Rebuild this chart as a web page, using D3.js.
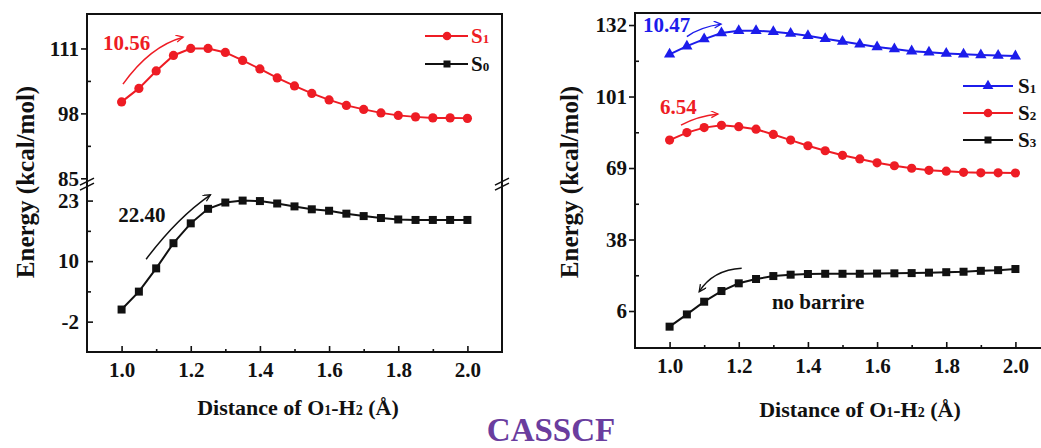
<!DOCTYPE html>
<html>
<head>
<meta charset="utf-8">
<script src="https://cdn.jsdelivr.net/npm/d3@7"></script>
<style>
  body { margin: 0; background: #fff; }
  svg { display: block; }
  svg text { font-family: 'Liberation Serif', 'Times New Roman', 'DejaVu Serif', serif !important; font-weight: bold; }
</style>
</head>
<body>
<div id="chart"></div>
<script>
// ---- data ----
const distance = [1.00, 1.05, 1.10, 1.15, 1.20, 1.25, 1.30, 1.35, 1.40, 1.45, 1.50,
  1.55, 1.60, 1.65, 1.70, 1.75, 1.80, 1.85, 1.90, 1.95, 2.00];

// left panel (two states, broken axis)
const leftS1 = [100.3, 103.0, 106.5, 109.6, 111.0, 111.0, 110.2, 108.6, 106.9, 105.1, 103.5,
  102.0, 100.7, 99.6, 98.8, 98.1, 97.6, 97.3, 97.1, 97.1, 97.0];
const leftS0 = [0.5, 4.2, 9.0, 14.2, 18.3, 21.3, 22.6, 23.0, 22.9, 22.4, 21.8,
  21.2, 20.9, 20.3, 19.8, 19.4, 19.1, 19.0, 19.0, 19.0, 19.0];

// right panel (three states)
const rightS1 = [119.4, 123.0, 126.1, 128.8, 129.8, 129.8, 129.3, 128.6, 127.6, 126.3, 125.0,
  123.8, 122.6, 121.7, 120.8, 120.3, 119.8, 119.4, 119.1, 118.9, 118.6];
const rightS2 = [81.6, 84.9, 87.1, 88.1, 87.5, 86.4, 84.1, 81.6, 79.1, 76.9, 74.9,
  73.3, 71.6, 70.3, 69.2, 68.3, 67.9, 67.4, 67.2, 67.2, 67.1];
const rightS3 = [-0.6, 4.8, 10.4, 15.1, 18.5, 20.4, 21.7, 22.3, 22.6, 22.7, 22.7,
  22.7, 22.8, 22.9, 23.0, 23.2, 23.4, 23.6, 24.0, 24.3, 24.8];

// ticks
const xTicks = [1.0, 1.2, 1.4, 1.6, 1.8, 2.0];
const xMinor = [1.1, 1.3, 1.5, 1.7, 1.9];
const leftTopTicks = [85, 98, 111];
const leftTopLabels = ['85', '98', '111'];
const leftTopMinor = [91.5, 104.5];
const leftLowTicks = [-2, 10.5, 23];
const leftLowLabels = ['-2', '10', '23'];
const leftLowMinor = [4.25, 16.75];
const rightTicks = [6.3, 37.8, 69.3, 100.8, 132.3];
const rightLabels = ['6', '38', '69', '101', '132'];
const rightMinor = [22.05, 53.55, 85.05, 116.55];

// annotations: barrier values
const barrierLeftS1 = '10.56';
const barrierLeftS0 = '22.40';
const barrierRightS1 = '10.47';
const barrierRightS2 = '6.54';
const noBarrierText = 'no barrire';

const RED = '#ee1c24', BLUE = '#1c1ceb', BLACK = '#111';
const SERIF = "'Liberation Serif', 'Times New Roman', 'DejaVu Serif', serif";

const W = 1041, H = 448;
const svg = d3.select('#chart').append('svg').attr('width', W).attr('height', H)
  .attr('font-family', SERIF).attr('font-weight', 'bold');

// arrow markers
const defs = svg.append('defs');
[['red', RED], ['blue', BLUE], ['black', BLACK]].forEach(([k, c]) => {
  defs.append('marker')
    .attr('id', `arr-${k}`)
    .attr('markerUnits', 'userSpaceOnUse')
    .attr('markerWidth', 12).attr('markerHeight', 12)
    .attr('refX', 8).attr('refY', 4)
    .attr('orient', 'auto')
    .append('path')
    .attr('d', 'M1,0 L8,4 L1,7')
    .attr('fill', 'none')
    .attr('stroke', c)
    .attr('stroke-width', 1.3);
});

// ---- scales ----
const xL = d3.scaleLinear().domain([0.9, 2.1]).range([87, 502]);
const yTop = d3.scaleLinear().domain([84.6, 117.9]).range([180.3, 14]);
const yLow = d3.scaleLinear().domain([-8.27, 25.6]).range([352, 188]);

const xR = d3.scaleLinear().domain([0.9, 2.1]).range([635, 1050]);
const yR = d3.scaleLinear().domain([-10.0, 137.6]).range([348, 13]);

function styleAxis(g) {
  g.attr('font-family', SERIF);
  g.select('.domain').remove();
  g.selectAll('line').attr('stroke', BLACK).attr('stroke-width', 1.6);
  g.selectAll('text').attr('font-size', 21).attr('fill', BLACK);
}

function drawSeries(g, xs, ys, vals, color, shape) {
  const line = d3.line().x((d, i) => xs(distance[i])).y(d => ys(d));
  g.append('path').datum(vals).attr('d', line)
    .attr('fill', 'none').attr('stroke', color).attr('stroke-width', 2);
  const pts = g.selectAll(null).data(vals).enter();
  if (shape === 'circle') {
    pts.append('circle').attr('cx', (d, i) => xs(distance[i])).attr('cy', d => ys(d))
      .attr('r', 4.6).attr('fill', color);
  } else if (shape === 'square') {
    pts.append('rect').attr('x', (d, i) => xs(distance[i]) - 4).attr('y', d => ys(d) - 4)
      .attr('width', 8).attr('height', 8).attr('fill', color);
  } else {
    pts.append('path').attr('d', d3.symbol(d3.symbolTriangle, 55))
      .attr('transform', (d, i) => `translate(${xs(distance[i])},${ys(d)})`)
      .attr('fill', color);
  }
}

function drawArrow(xs, ys, p0, c, p1, color, key) {
  const p = d3.path();
  p.moveTo(xs(p0[0]), ys(p0[1]));
  p.quadraticCurveTo(xs(c[0]), ys(c[1]), xs(p1[0]), ys(p1[1]));
  svg.append('path').attr('d', p.toString())
    .attr('fill', 'none').attr('stroke', color).attr('stroke-width', 1.5)
    .attr('marker-end', `url(#arr-${key})`);
}

function subText(g, x, y, main, sub, color, size, anchor) {
  const t = g.append('text').attr('x', x).attr('y', y).attr('fill', color)
    .attr('font-size', size).attr('text-anchor', anchor || 'start');
  t.append('tspan').text(main);
  t.append('tspan').attr('font-size', size * 0.62).text(sub);
  return t;
}

function xTitle(cx, y) {
  const t = svg.append('text').attr('x', cx).attr('y', y).attr('text-anchor', 'middle')
    .attr('font-size', 22).attr('fill', BLACK);
  t.append('tspan').text('Distance of O');
  t.append('tspan').attr('font-size', 14).text('1');
  t.append('tspan').text('-H');
  t.append('tspan').attr('font-size', 14).text('2');
  t.append('tspan').text(' (Å)');
}

function yTitle(cx, cy) {
  svg.append('text').attr('transform', `translate(${cx},${cy}) rotate(-90)`)
    .attr('text-anchor', 'middle').attr('dy', '0.35em')
    .attr('font-size', 25).attr('fill', BLACK)
    .text('Energy (kcal/mol)');
}

// ================= LEFT PANEL =================
const left = svg.append('g');

// x axis
left.append('g').attr('transform', `translate(0,${yLow.range()[0]})`)
  .call(d3.axisBottom(xL).tickValues(xTicks).tickFormat(d3.format('.1f'))
    .tickSizeInner(-6).tickSizeOuter(0).tickPadding(10))
  .call(styleAxis);
left.append('g').attr('transform', `translate(0,${yLow.range()[0]})`)
  .call(d3.axisBottom(xL).tickValues(xMinor).tickFormat('').tickSizeInner(-3).tickSizeOuter(0))
  .call(styleAxis);

// y axes (broken)
left.append('g').attr('transform', `translate(${xL.range()[0]},0)`)
  .call(d3.axisLeft(yTop).tickValues(leftTopTicks).tickFormat((d, i) => leftTopLabels[i])
    .tickSizeInner(6).tickSizeOuter(0).tickPadding(2))
  .call(styleAxis);
left.append('g').attr('transform', `translate(${xL.range()[0]},0)`)
  .call(d3.axisLeft(yTop).tickValues(leftTopMinor).tickFormat('').tickSizeInner(-4).tickSizeOuter(0))
  .call(styleAxis);
left.append('g').attr('transform', `translate(${xL.range()[0]},0)`)
  .call(d3.axisLeft(yLow).tickValues(leftLowTicks).tickFormat((d, i) => leftLowLabels[i])
    .tickSizeInner(-6).tickSizeOuter(0).tickPadding(8))
  .call(styleAxis);
left.append('g').attr('transform', `translate(${xL.range()[0]},0)`)
  .call(d3.axisLeft(yLow).tickValues(leftLowMinor).tickFormat('').tickSizeInner(-4).tickSizeOuter(0))
  .call(styleAxis);

// frame
left.append('rect')
  .attr('x', xL.range()[0]).attr('y', yTop.range()[1])
  .attr('width', xL.range()[1] - xL.range()[0])
  .attr('height', yLow.range()[0] - yTop.range()[1])
  .attr('fill', 'none').attr('stroke', BLACK).attr('stroke-width', 2);

// break marks on both vertical sides
const breakY = (yTop.range()[0] + yLow.range()[1]) / 2;
[xL.range()[0], xL.range()[1]].forEach(bx => {
  [-2.5, 2.5].forEach(off => {
    left.append('line')
      .attr('x1', bx - 7).attr('y1', breakY + off + 3.5)
      .attr('x2', bx + 7).attr('y2', breakY + off - 3.5)
      .attr('stroke', BLACK).attr('stroke-width', 1.6);
  });
});

drawSeries(left, xL, yTop, leftS1, RED, 'circle');
drawSeries(left, xL, yLow, leftS0, BLACK, 'square');

// annotations
left.append('text').attr('x', xL(0.946)).attr('y', yTop(110.66))
  .attr('fill', RED).attr('font-size', 21).text(barrierLeftS1);
drawArrow(xL, yTop, [1.004, 103.86], [1.082, 111.46], [1.178, 113.26], RED, 'red');
left.append('text').attr('x', xL(0.99)).attr('y', yLow(18.6))
  .attr('fill', BLACK).attr('font-size', 21).text(barrierLeftS0);
drawArrow(xL, yLow, [1.071, 10.9], [1.16, 19.4], [1.257, 24.2], BLACK, 'black');

// legend
const legL = left.append('g').attr('transform', 'translate(425,36)');
[[RED, 'circle', 'S', '1', 0], [BLACK, 'square', 'S', '0', 28]].forEach(([c, s, m, sub, dy]) => {
  legL.append('line').attr('x1', 0).attr('x2', 43).attr('y1', dy).attr('y2', dy)
    .attr('stroke', c).attr('stroke-width', 2);
  if (s === 'circle') legL.append('circle').attr('cx', 22).attr('cy', dy).attr('r', 4.3).attr('fill', c);
  else legL.append('rect').attr('x', 18.5).attr('y', dy - 3.5).attr('width', 7).attr('height', 7).attr('fill', c);
  subText(legL, 46, dy + 7, m, sub, c, 21);
});

xTitle(298, 415);
yTitle(25, 182);

// ================= RIGHT PANEL =================
const right = svg.append('g');

right.append('g').attr('transform', `translate(0,${yR.range()[0]})`)
  .call(d3.axisBottom(xR).tickValues(xTicks).tickFormat(d3.format('.1f'))
    .tickSizeInner(-6).tickSizeOuter(0).tickPadding(10))
  .call(styleAxis);
right.append('g').attr('transform', `translate(0,${yR.range()[0]})`)
  .call(d3.axisBottom(xR).tickValues(xMinor).tickFormat('').tickSizeInner(-3).tickSizeOuter(0))
  .call(styleAxis);
right.append('g').attr('transform', `translate(${xR.range()[0]},0)`)
  .call(d3.axisLeft(yR).tickValues(rightTicks).tickFormat((d, i) => rightLabels[i])
    .tickSizeInner(6).tickSizeOuter(0).tickPadding(2))
  .call(styleAxis);
right.append('g').attr('transform', `translate(${xR.range()[0]},0)`)
  .call(d3.axisLeft(yR).tickValues(rightMinor).tickFormat('').tickSizeInner(-4).tickSizeOuter(0))
  .call(styleAxis);

right.append('rect')
  .attr('x', xR.range()[0]).attr('y', yR.range()[1])
  .attr('width', xR.range()[1] - xR.range()[0])
  .attr('height', yR.range()[0] - yR.range()[1])
  .attr('fill', 'none').attr('stroke', BLACK).attr('stroke-width', 2);

drawSeries(right, xR, yR, rightS1, BLUE, 'triangle');
drawSeries(right, xR, yR, rightS2, RED, 'circle');
drawSeries(right, xR, yR, rightS3, BLACK, 'square');

right.append('text').attr('x', xR(0.923)).attr('y', yR(129.2))
  .attr('fill', BLUE).attr('font-size', 21).text(barrierRightS1);
drawArrow(xR, yR, [1.05, 127.2], [1.088, 131.4], [1.149, 132.7], BLUE, 'blue');
right.append('text').attr('x', xR(0.972)).attr('y', yR(93.1))
  .attr('fill', RED).attr('font-size', 21).text(barrierRightS2);
drawArrow(xR, yR, [1.033, 88.2], [1.082, 92.2], [1.14, 93.1], RED, 'red');
right.append('text').attr('x', xR(1.296)).attr('y', yR(7.2))
  .attr('fill', BLACK).attr('font-size', 21).text(noBarrierText);
drawArrow(xR, yR, [1.2085, 25.1], [1.1256, 24.4], [1.0856, 14.8], BLACK, 'black');

const legR = right.append('g').attr('transform', 'translate(963,86)');
[[BLUE, 'triangle', '1', 0], [RED, 'circle', '2', 27], [BLACK, 'square', '3', 54]].forEach(([c, s, sub, dy]) => {
  legR.append('line').attr('x1', 0).attr('x2', 50).attr('y1', dy).attr('y2', dy)
    .attr('stroke', c).attr('stroke-width', 2);
  if (s === 'circle') legR.append('circle').attr('cx', 25).attr('cy', dy).attr('r', 4.3).attr('fill', c);
  else if (s === 'square') legR.append('rect').attr('x', 21.5).attr('y', dy - 3.5).attr('width', 7).attr('height', 7).attr('fill', c);
  else legR.append('path').attr('d', d3.symbol(d3.symbolTriangle, 50)).attr('transform', `translate(25,${dy})`).attr('fill', c);
  subText(legR, 55, dy + 7, 'S', sub, BLACK, 21);
});

xTitle(860, 417);
yTitle(569, 182);

// ================= caption =================
svg.append('text').attr('x', 551).attr('y', 441).attr('text-anchor', 'middle')
  .attr('font-size', 33).attr('fill', '#6a3d9e').text('CASSCF');
</script>
</body>
</html>
